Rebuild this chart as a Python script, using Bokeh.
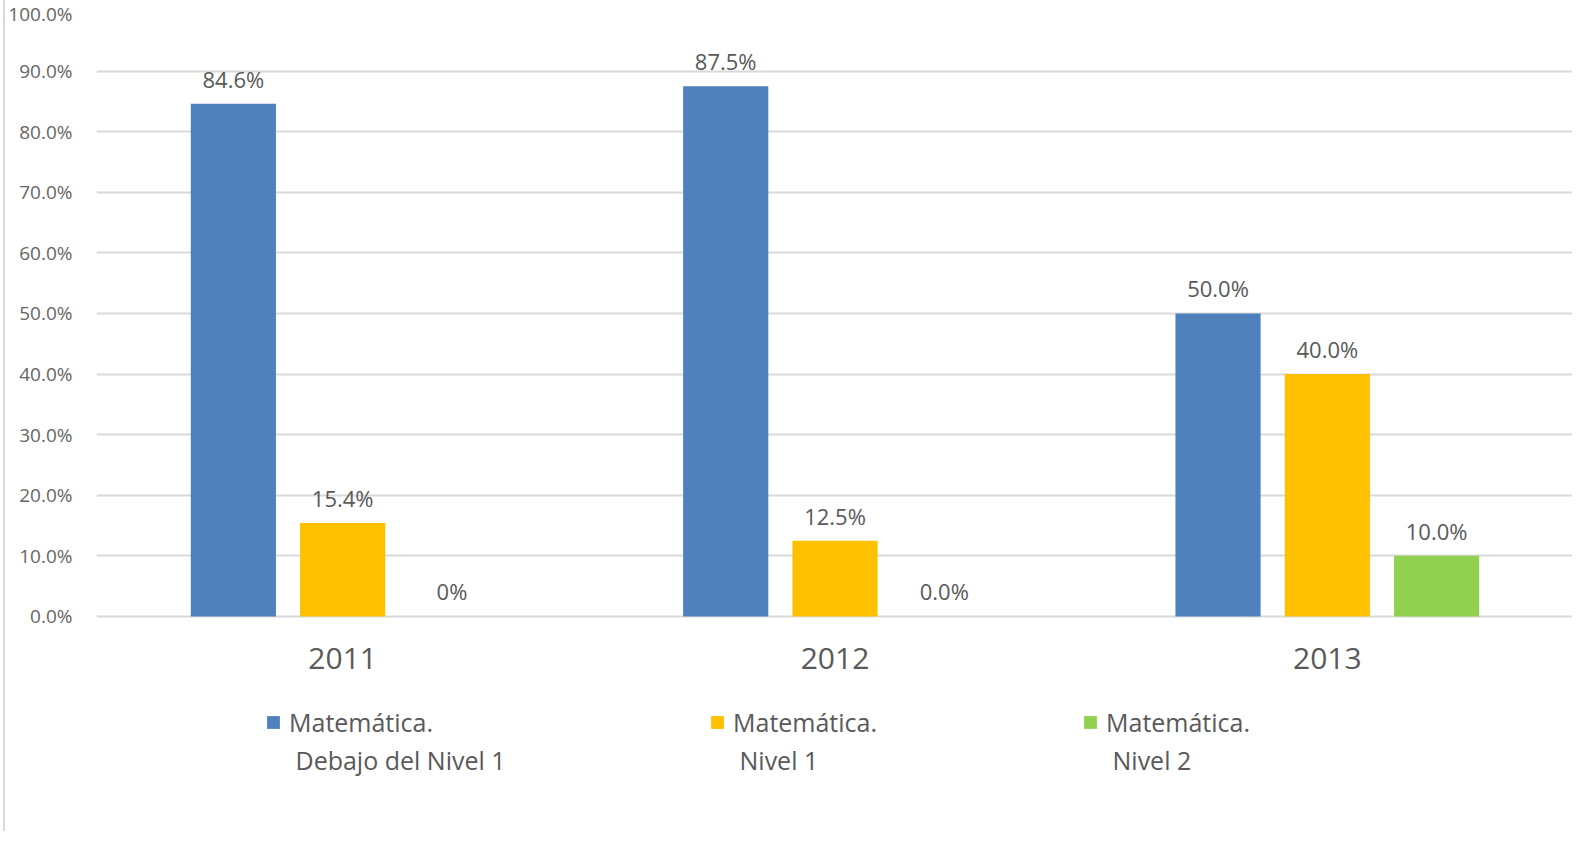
from bokeh.plotting import figure
from bokeh.models import (ColumnDataSource, FactorRange, Legend, LegendItem,
                          PrintfTickFormatter, FixedTicker, Label)
from bokeh.transform import dodge
from bokeh.core.properties import value
from bokeh.embed import file_html
from bokeh.resources import INLINE

years = ["2011", "2012", "2013"]
debajo_nivel1 = [84.6, 87.5, 50.0]
nivel1 = [15.4, 12.5, 40.0]
nivel2 = [0.0, 0.0, 10.0]
debajo_labels = ["84.6%", "87.5%", "50.0%"]
nivel1_labels = ["15.4%", "12.5%", "40.0%"]
nivel2_labels = ["0%", "0.0%", "10.0%"]
series_first_line = ["Matemática.", "Matemática.", "Matemática."]
series_second_line = ["Debajo del Nivel 1", "Nivel 1", "Nivel 2"]
colors = ["#4F81BD", "#FFC000", "#92D050"]
y_ticks = [0, 10, 20, 30, 40, 50, 60, 70, 80, 90, 100]

FONT = "Open Sans"

src = ColumnDataSource(data=dict(
    years=years, d=debajo_nivel1, n1=nivel1, n2=nivel2,
    dl=debajo_labels, n1l=nivel1_labels, n2l=nivel2_labels,
))

# the frame extends below 0 so that category labels and legend live inside it
p = figure(x_range=FactorRange(factors=years, range_padding=0),
           y_range=(-35.5, 100), width=1569, height=831,
           output_backend="svg", toolbar_location=None,
           min_border_left=86, min_border_right=1, min_border_top=10,
           min_border_bottom=0)
p.outline_line_color = None
p.styles = {"border-left": "2px solid #D9D9D9", "margin-left": "3px"}

offsets = [-0.222, 0.0, 0.222]
cols = ["d", "n1", "n2"]
lcols = ["dl", "n1l", "n2l"]
renderers = []
for off, c, lc, col in zip(offsets, cols, lcols, colors):
    r = p.vbar(x=dodge("years", off, range=p.x_range), top=c, width=0.173,
               source=src, fill_color=col, line_color=None)
    renderers.append(r)
    p.text(x=dodge("years", off, range=p.x_range), y=c, text=lc, source=src,
           text_align="center", text_baseline="middle", y_offset=-25,
           text_font=value(FONT), text_font_size="22px", text_color="#595959")

# category labels under the bars
p.text(x="years", y=0, text="years", source=src, text_align="center",
       text_baseline="middle", y_offset=42, text_font=value(FONT),
       text_font_size="30px", text_color="#595959")

p.xgrid.grid_line_color = None
p.ygrid.grid_line_color = "#D9D9D9"
p.ygrid.grid_line_width = 2
p.yaxis.ticker = FixedTicker(ticks=y_ticks)
p.yaxis.formatter = PrintfTickFormatter(format="%.1f%%")
p.yaxis.axis_line_color = None
p.yaxis.major_tick_line_color = None
p.yaxis.minor_tick_line_color = None
p.yaxis.major_label_text_font = FONT
p.yaxis.major_label_text_font_size = "19px"
p.yaxis.major_label_text_color = "#666666"
p.yaxis.major_label_standoff = 18
p.xaxis.visible = False

# legend: one entry per series (screen px relative to the frame's bottom-left)
legend_x = [169, 613, 986]
for name, second, r, lx in zip(series_first_line, series_second_line, renderers, legend_x):
    lg = Legend(items=[LegendItem(label=name, renderers=[r])],
                location=(lx, 92),
                label_text_font=FONT, label_text_font_size="25px",
                label_text_color="#595959", label_standoff=8, label_height=30,
                glyph_width=16, glyph_height=16, spacing=0,
                padding=0, margin=0, border_line_color=None,
                background_fill_alpha=0)
    p.add_layout(lg, "center")
    p.add_layout(Label(x=lx + 30, y=72, x_units="screen", y_units="screen",
                       text=second, text_font=FONT, text_font_size="25px",
                       text_color="#595959", text_baseline="middle"))

open("out.html", "w").write(file_html(p, INLINE))
